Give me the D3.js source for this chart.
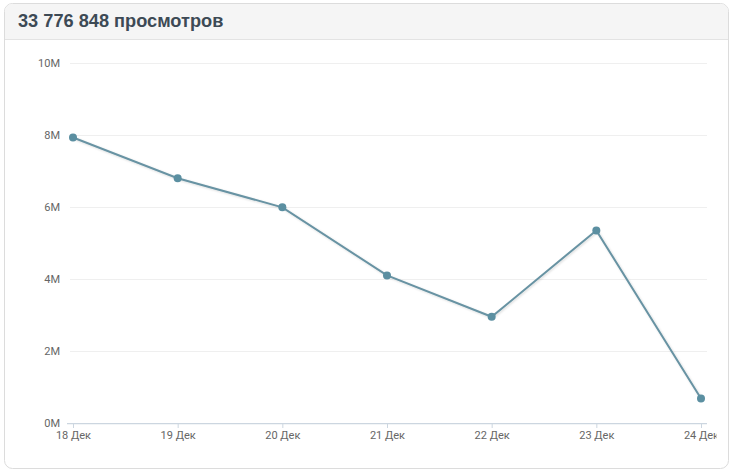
<!DOCTYPE html>
<html><head><meta charset="utf-8">
<script src="https://cdn.jsdelivr.net/npm/d3@7"></script>
<style>
html,body{margin:0;padding:0;background:#fff;}
</style></head>
<body>
<svg id="c" width="734" height="473"></svg>
<script>
const title = "33 776 848 просмотров";
const categories = ["18 Дек","19 Дек","20 Дек","21 Дек","22 Дек","23 Дек","24 Дек"];
const views = [7.93e6, 6.80e6, 5.99e6, 4.10e6, 2.95e6, 5.35e6, 0.68e6];
const yTicks = [0, 2e6, 4e6, 6e6, 8e6, 10e6];
const yTickLabels = ["0M","2M","4M","6M","8M","10M"];

const svg = d3.select("#c");
const defs = svg.append("defs");
const f = defs.append("filter").attr("id","sh").attr("x","-10%").attr("y","-10%").attr("width","120%").attr("height","130%");
f.append("feDropShadow").attr("dx",1).attr("dy",1).attr("stdDeviation",1).attr("flood-color","#000").attr("flood-opacity",0.15);
defs.append("clipPath").attr("id","xc").append("rect").attr("x",0).attr("y",0).attr("width",716.5).attr("height",473);

// card
svg.append("rect").attr("x",4.5).attr("y",3.5).attr("width",724).attr("height",465).attr("rx",8)
  .attr("fill","#fff").attr("stroke","#dcdcdc");
svg.append("path").attr("d","M5,39 L5,12 Q5,4 13,4 L720,4 Q728,4 728,12 L728,39 Z").attr("fill","#f5f5f5");
svg.append("line").attr("x1",5).attr("x2",728).attr("y1",39.5).attr("y2",39.5).attr("stroke","#e3e3e3");
svg.append("text").attr("x",18).attr("y",27).text(title)
  .attr("font-family","Liberation Sans, Arial, sans-serif").attr("font-weight","bold").attr("font-size",18.2).attr("fill","#3d4a55");

const x = d3.scalePoint().domain(categories).range([73,701]);
const y = d3.scaleLinear().domain([0,10e6]).range([423,63]);

// grid
svg.append("g").selectAll("line").data(yTicks.slice(1)).join("line")
  .attr("x1",70).attr("x2",707).attr("y1",d=>Math.round(y(d))+0.5).attr("y2",d=>Math.round(y(d))+0.5)
  .attr("stroke","#efefef");

// y labels
svg.append("g").selectAll("text").data(yTicks).join("text")
  .attr("x",60).attr("y",d=>y(d)+4).attr("text-anchor","end")
  .attr("font-family","Roboto, sans-serif").attr("font-size",11).attr("fill","#666")
  .text((d,i)=>yTickLabels[i]);

// x axis
const xa = svg.append("g").attr("transform","translate(0,423)").attr("clip-path","url(#xc)")
  .call(d3.axisBottom(x).tickSize(5).tickPadding(3));
xa.select(".domain").remove();
xa.insert("line",":first-child").attr("x1",67).attr("x2",707).attr("y1",0.5).attr("y2",0.5).attr("stroke","#ccd6e0").attr("stroke-width",1.5);
xa.selectAll(".tick line").attr("stroke","#ccd6e0");
xa.selectAll(".tick text").attr("font-family","Roboto, sans-serif").attr("font-size",11).attr("fill","#666");

// line
const data = categories.map((c,i)=>({c, v:views[i]}));
svg.append("path").datum(data)
  .attr("d", d3.line().x(d=>x(d.c)).y(d=>y(d.v)))
  .attr("fill","none").attr("stroke","#6893a3").attr("stroke-width",2).attr("filter","url(#sh)");
svg.append("g").selectAll("circle").data(data).join("circle")
  .attr("cx",d=>x(d.c)).attr("cy",d=>y(d.v)).attr("r",4).attr("fill","#5b8fa1");
</script>
</body></html>
